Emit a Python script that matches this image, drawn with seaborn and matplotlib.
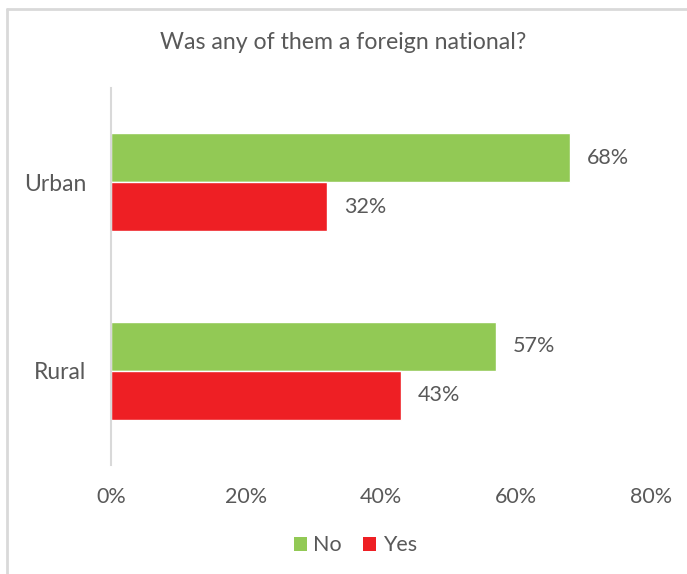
import matplotlib
matplotlib.use("Agg")
import matplotlib.pyplot as plt
from matplotlib.lines import Line2D
from matplotlib.patches import Patch
import seaborn as sns
import pandas as pd

# Survey answers by area
areas = ["Urban", "Rural"]
answers = ["No", "Yes"]
no_share = [68, 57]
yes_share = [32, 43]
x_ticks = [0, 20, 40, 60, 80]
x_tick_labels = ["0%", "20%", "40%", "60%", "80%"]

colors = {"No": "#92C955", "Yes": "#EE1F24"}
text_grey = "#595959"

df = pd.DataFrame({
    "area": areas * 2,
    "answer": ["No"] * len(areas) + ["Yes"] * len(areas),
    "share": no_share + yes_share,
})

sns.set_theme(style="white")
plt.rcParams["font.family"] = ["Lato", "DejaVu Sans"]

fig = plt.figure(figsize=(6.87, 5.74), dpi=100)
ax = fig.add_axes([0.1616, 0.19, 0.786, 0.657])

sns.barplot(data=df, y="area", x="share", hue="answer", order=areas,
            hue_order=answers, palette=colors, orient="h", width=0.52,
            saturation=1, ax=ax, legend=False)

for container, answer in zip(ax.containers, answers):
    labels = [f"{v}%" for v in df[df["answer"] == answer]["share"]]
    ax.bar_label(container, labels=labels, padding=12, fontsize=15.5,
                 color=text_grey)

ax.set_xlim(0, 80)
ax.set_ylim(1.5, -0.5)
ax.set_xticks(x_ticks)
ax.set_xticklabels(x_tick_labels)
ax.set_xlabel("")
ax.set_ylabel("")
ax.tick_params(axis="x", length=0, pad=16, labelsize=15.5, labelcolor=text_grey)
ax.tick_params(axis="y", length=0, pad=18, labelsize=16.5, labelcolor=text_grey)
for side in ["top", "right", "bottom"]:
    ax.spines[side].set_visible(False)
ax.spines["left"].set_color("#D9D9D9")
ax.spines["left"].set_linewidth(1.5)

fig.suptitle("Was any of them a foreign national?", x=0.5, y=0.945,
             fontsize=16.7, color=text_grey)

handles = [Patch(facecolor=colors[a], edgecolor="none", label=a) for a in answers]
fig.legend(handles=handles, loc="center", bbox_to_anchor=(0.517, 0.05),
           ncol=2, frameon=False, fontsize=15.5, labelcolor=text_grey,
           handlelength=0.6, handleheight=0.6, handletextpad=0.3,
           columnspacing=1.0)

# chart frame (top and left edges)
fig.add_artist(Line2D([0.0095, 1.0], [0.985, 0.985], color="#D9D9D9",
                      linewidth=2, transform=fig.transFigure))
fig.add_artist(Line2D([0.0095, 0.0095], [0.0, 0.985], color="#D9D9D9",
                      linewidth=2, transform=fig.transFigure))

fig.savefig("out.png", dpi=100)
